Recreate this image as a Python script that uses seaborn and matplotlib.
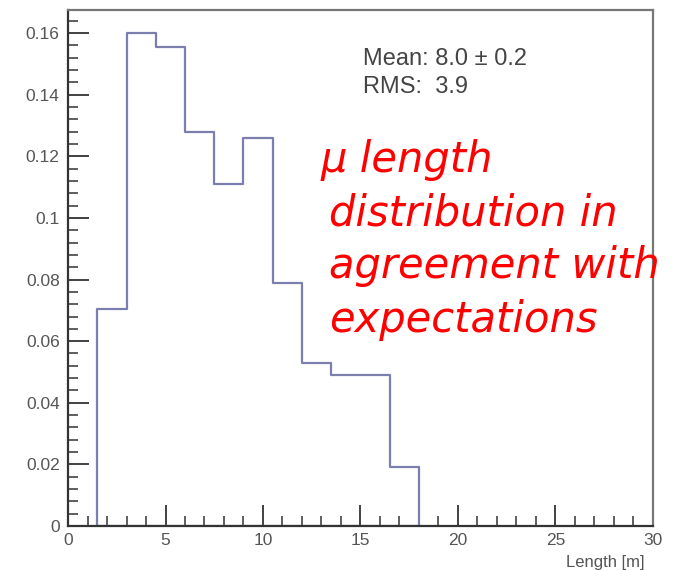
import matplotlib
matplotlib.use("Agg")
import matplotlib.pyplot as plt
import seaborn as sns
import numpy as np
import pandas as pd
from matplotlib.ticker import MultipleLocator, FuncFormatter

# Data
bin_edges = [1.5, 3.0, 4.5, 6.0, 7.5, 9.0, 10.5, 12.0, 13.5, 15.0, 16.5, 18.0]
bin_heights = [0.0705, 0.160, 0.1555, 0.128, 0.111, 0.126, 0.079, 0.053, 0.049, 0.049, 0.019]
x_label = "Length [m]"
stats_lines = ["Mean: 8.0 \u00b1 0.2", "RMS:  3.9"]
note_lines = ["\u03bc length", "distribution in", "agreement with", "expectations"]

centers = [(a + b) / 2 for a, b in zip(bin_edges[:-1], bin_edges[1:])]
df = pd.DataFrame({"length": centers, "w": bin_heights})

sns.set_theme(style="white")
plt.rcParams['font.family'] = ['Liberation Sans', 'DejaVu Sans']

fig = plt.figure(figsize=(6.74, 5.71), dpi=100)
ax = fig.add_axes([0.1009, 0.0788, 0.8679, 0.9037])

line_color = "#7b7fae"
sns.histplot(data=df, x="length", weights="w", bins=bin_edges, element="step",
             fill=True, color=line_color, linewidth=1.6, ax=ax)
for coll in ax.collections:
    coll.set_facecolor("none")
    coll.set_edgecolor(line_color)
    coll.set_alpha(1.0)

ax.set_xlim(0, 30)
ax.set_ylim(0, 0.1675)
ax.set_ylabel("")
ax.set_xlabel("")

ax.xaxis.set_major_locator(MultipleLocator(5))
ax.xaxis.set_minor_locator(MultipleLocator(1))
ax.yaxis.set_major_locator(MultipleLocator(0.02))
ax.yaxis.set_minor_locator(MultipleLocator(0.004))

def yfmt(v, pos):
    if abs(v) < 1e-9:
        return "0"
    s = f"{v:.2f}"
    if s.endswith("0"):
        s = s[:-1]
    return s
ax.yaxis.set_major_formatter(FuncFormatter(yfmt))
ax.xaxis.set_major_formatter(FuncFormatter(lambda v, p: f"{int(round(v))}"))

ax.tick_params(axis="both", which="major", direction="in", length=15, width=1.3,
               color="#333333", labelsize=12.5, labelcolor="#555555")
ax.tick_params(axis="both", which="minor", direction="in", length=7, width=1.1,
               color="#333333")
ax.tick_params(axis="x", which="both", bottom=True, top=False, pad=5)
ax.tick_params(axis="y", which="both", left=True, right=False, pad=6)

for side in ["left", "bottom"]:
    ax.spines[side].set_color("#333333")
    ax.spines[side].set_linewidth(1.6)
for side in ["top", "right"]:
    ax.spines[side].set_color("#777777")
    ax.spines[side].set_linewidth(1.6)
    ax.spines[side].set_visible(True)

fig.text(645 / 674, 1 - 562 / 571, x_label, ha="right", va="center",
         fontsize=12, color="#555555")

ax.text(0.505, 0.905, stats_lines[0], transform=ax.transAxes, fontsize=17,
        color="#444444", ha="left", va="center")
ax.text(0.505, 0.851, stats_lines[1], transform=ax.transAxes, fontsize=17,
        color="#444444", ha="left", va="center")

note_y = [160, 213, 266, 320]
note_x = [321, 329, 329, 329]
for t, xx, yy in zip(note_lines, note_x, note_y):
    fig.text(xx / 674, 1 - yy / 571, t, fontsize=30, color="#ff0000",
             style="italic", ha="left", va="center", family="DejaVu Sans")

fig.savefig("out.png", dpi=100)
